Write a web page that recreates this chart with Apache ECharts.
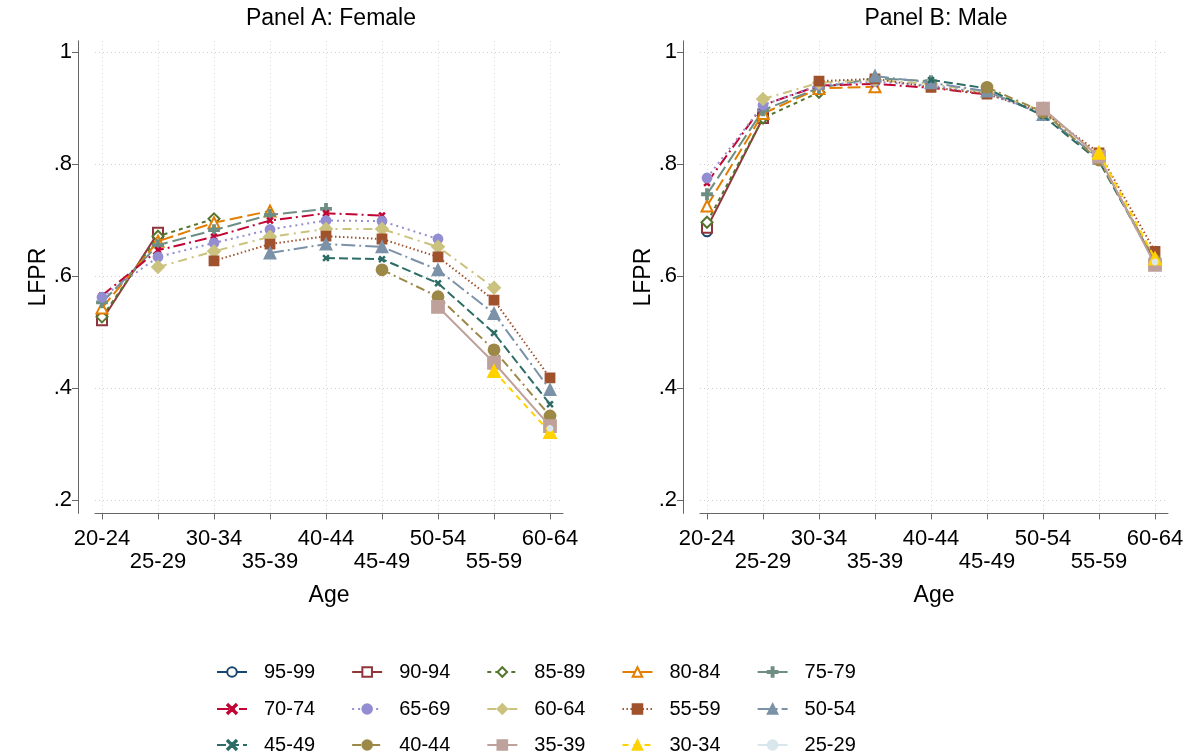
<!DOCTYPE html>
<html>
<head>
<meta charset="utf-8">
<script src="https://cdn.jsdelivr.net/npm/echarts@6/dist/echarts.min.js"></script>
<style>
html,body{margin:0;padding:0;background:#fff;}
#chart{width:1199px;height:755px;}
</style>
</head>
<body>
<div id="chart"></div>
<script>
// ---- data ----
const ages = ['20-24','25-29','30-34','35-39','40-44','45-49','50-54','55-59','60-64'];
const cohorts = ['95-99','90-94','85-89','80-84','75-79','70-74','65-69','60-64','55-59','50-54','45-49','40-44','35-39','30-34','25-29'];
const yTicks = [0.2, 0.4, 0.6, 0.8, 1];
const yTickLabels = ['.2', '.4', '.6', '.8', '1'];

// Panel A: Female (LFPR by age group, one array per birth cohort)
const female9599 = [0.522, null, null, null, null, null, null, null, null];
const female9094 = [0.521, 0.677, null, null, null, null, null, null, null];
const female8589 = [0.527, 0.671, 0.702, null, null, null, null, null, null];
const female8084 = [0.543, 0.662, 0.695, 0.716, null, null, null, null, null];
const female7579 = [0.553, 0.655, 0.682, 0.709, 0.720, null, null, null, null];
const female7074 = [0.565, 0.646, 0.670, 0.699, 0.712, 0.708, null, null, null];
const female6569 = [0.562, 0.634, 0.659, 0.683, 0.699, 0.698, 0.666, null, null];
const female6064 = [null, 0.616, 0.644, 0.670, 0.684, 0.684, 0.652, 0.579, null];
const female5559 = [null, null, 0.627, 0.657, 0.671, 0.666, 0.634, 0.557, 0.418];
const female5054 = [null, null, null, 0.641, 0.657, 0.652, 0.611, 0.533, 0.397];
const female4549 = [null, null, null, null, 0.632, 0.630, 0.587, 0.498, 0.371];
const female4044 = [null, null, null, null, null, 0.611, 0.563, 0.468, 0.350];
const female3539 = [null, null, null, null, null, null, 0.545, 0.445, 0.332];
const female3034 = [null, null, null, null, null, null, null, 0.430, 0.321];
const female2529 = [null, null, null, null, null, null, null, null, 0.328];

// Panel B: Male
const male9599 = [0.679, null, null, null, null, null, null, null, null];
const male9094 = [0.686, 0.882, null, null, null, null, null, null, null];
const male8589 = [0.696, 0.882, 0.928, null, null, null, null, null, null];
const male8084 = [0.725, 0.890, 0.935, 0.938, null, null, null, null, null];
const male7579 = [0.746, 0.896, 0.936, 0.953, 0.948, null, null, null, null];
const male7074 = [0.766, 0.905, 0.940, 0.943, 0.936, 0.924, null, null, null];
const male6569 = [0.775, 0.905, 0.941, 0.947, 0.940, 0.926, 0.890, null, null];
const male6064 = [null, 0.916, 0.945, 0.950, 0.943, 0.928, 0.895, 0.815, null];
const male5559 = [null, null, 0.948, 0.952, 0.937, 0.925, 0.893, 0.820, 0.644];
const male5054 = [null, null, null, 0.957, 0.945, 0.930, 0.888, 0.810, 0.625];
const male4549 = [null, null, null, null, 0.950, 0.935, 0.886, 0.805, 0.625];
const male4044 = [null, null, null, null, null, 0.937, 0.893, 0.807, 0.628];
const male3539 = [null, null, null, null, null, null, 0.899, 0.813, 0.620];
const male3034 = [null, null, null, null, null, null, null, 0.820, 0.631];
const male2529 = [null, null, null, null, null, null, null, null, 0.625];

const femaleSeries = [female9599, female9094, female8589, female8084, female7579, female7074, female6569,
  female6064, female5559, female5054, female4549, female4044, female3539, female3034, female2529];
const maleSeries = [male9599, male9094, male8589, male8084, male7579, male7074, male6569,
  male6064, male5559, male5054, male4549, male4044, male3539, male3034, male2529];

// ---- styles ----
const plusPath = 'path://M4,0H6V4H10V6H6V10H4V6H0V4H4Z';
const xPath = 'path://M1,0L5,4L9,0L10,1L6,5L10,9L9,10L5,6L1,10L0,9L4,5L0,1Z';
const styles = [
  {color:'#1a476f', type:'solid',        symbol:'emptyCircle',   size:9},
  {color:'#90353b', type:'solid',        symbol:'emptyRect',     size:10},
  {color:'#55752f', type:[4,4],          symbol:'emptyDiamond',  size:11},
  {color:'#e37e00', type:[13,5],         symbol:'emptyTriangle', size:11},
  {color:'#6e8e84', type:[14,5],         symbol:plusPath,        size:10},
  {color:'#c10534', type:[12,4,2,4],     symbol:xPath,           size:5},
  {color:'#938dd2', type:[2,4],          symbol:'circle',        size:9},
  {color:'#cac27e', type:[9,5,2,5],      symbol:'diamond',       size:12},
  {color:'#a0522d', type:[1.5,2.5],      symbol:'rect',          size:9},
  {color:'#7b92a8', type:[14,4,2,4],     symbol:'triangle',      size:11},
  {color:'#2d6d66', type:[9,4],          symbol:xPath,           size:5},
  {color:'#9c8847', type:[9,4,2,4],      symbol:'circle',        size:11},
  {color:'#bfa19c', type:'solid',        symbol:'rect',          size:12},
  {color:'#ffd200', type:[6,5],          symbol:'triangle',      size:12},
  {color:'#d9e6eb', type:'solid',        symbol:'circle',        size:5}
];

const FONT = 'Liberation Sans, Arial, sans-serif';
const xIdx = [0,1,2,3,4,5,6,7,8];
const xEven = [0,2,4,6,8];
const xOdd = [1,3,5,7];

function makeXAxis(gridIndex) {
  return {
    type:'value', gridIndex, position:'bottom', min:-0.125, max:8.232,
    axisLine:{show:true, onZero:false, lineStyle:{color:'#666', width:1}},
    axisTick:{show:true, length:6, customValues:xIdx, lineStyle:{color:'#666'}},
    axisLabel:{customValues:xEven, showMinLabel:true, showMaxLabel:true, hideOverlap:false,
      color:'#000', fontSize:22, fontFamily:FONT, margin:15,
      formatter:(v)=>ages[Math.round(v)]},
    splitLine:{show:true, lineStyle:{color:'#d4d4d4', type:[1,3], width:1}},
    name:'Age', nameLocation:'middle', nameGap:71,
    nameTextStyle:{fontSize:23, color:'#000', fontFamily:FONT}
  };
}
function makeXAxisOdd(gridIndex) {
  return {
    type:'value', gridIndex, position:'bottom', min:-0.125, max:8.232,
    axisLine:{show:false, onZero:false},
    axisTick:{show:false},
    axisLabel:{customValues:xOdd, showMinLabel:true, showMaxLabel:true, hideOverlap:false,
      color:'#000', fontSize:22, fontFamily:FONT, margin:38,
      formatter:(v)=>ages[Math.round(v)]},
    splitLine:{show:false}
  };
}
function makeYAxis(gridIndex) {
  return {
    type:'value', gridIndex, min:0.176, max:1.02, offset:17,
    axisLine:{show:true, onZero:false, lineStyle:{color:'#666', width:1}},
    axisTick:{show:true, length:6, customValues:yTicks, lineStyle:{color:'#666'}},
    axisLabel:{customValues:yTicks, showMinLabel:true, showMaxLabel:true, hideOverlap:false,
      color:'#000', fontSize:22, fontFamily:FONT, margin:6,
      formatter:(v)=>{ const k=yTicks.findIndex(t=>Math.abs(t-v)<1e-6); return k>=0 ? yTickLabels[k] : ''; }},
    splitLine:{show:true, lineStyle:{color:'#d4d4d4', type:[1,3], width:1}},
    name:'LFPR', nameLocation:'middle', nameGap:27,
    nameTextStyle:{fontSize:23, color:'#000', fontFamily:FONT}
  };
}

function buildSeries(arrs, xAxisIndex, yAxisIndex) {
  return arrs.map((arr, k) => {
    const st = styles[k];
    const pts = [];
    arr.forEach((v, i) => { if (v !== null) pts.push([i, v]); });
    return {
      name: cohorts[k], type:'line', xAxisIndex, yAxisIndex,
      data: pts, symbol: st.symbol, symbolSize: st.size, showSymbol:true,
      lineStyle:{color:st.color, width:2, type:st.type},
      itemStyle:{color:st.color, borderColor:st.color, borderWidth:1.8},
      emphasis:{disabled:true}, z: 2 + k
    };
  });
}

function legendRow(names, top) {
  return {
    data:names, left:216, top:top, orient:'horizontal', padding:0,
    itemWidth:30, itemHeight:12, itemGap:36,
    textStyle:{fontSize:20, color:'#000', fontFamily:FONT, padding:[0,0,0,12]},
    selectedMode:false
  };
}

const option = {
  animation:false,
  backgroundColor:'#fff',
  title:[
    {text:'Panel A: Female', left:326, top:2, textAlign:'center', textStyle:{fontSize:23, fontWeight:'normal', color:'#000', fontFamily:FONT}},
    {text:'Panel B: Male', left:931, top:2, textAlign:'center', textStyle:{fontSize:23, fontWeight:'normal', color:'#000', fontFamily:FONT}}
  ],
  legend:[
    legendRow(cohorts.slice(0,5), 662),
    legendRow(cohorts.slice(5,10), 699),
    legendRow(cohorts.slice(10,15), 735)
  ],
  grid:[
    {left:95, width:468, top:40.8, height:472.6},
    {left:700, width:468, top:40.8, height:472.6}
  ],
  xAxis:[makeXAxis(0), makeXAxisOdd(0), makeXAxis(1), makeXAxisOdd(1)],
  yAxis:[makeYAxis(0), makeYAxis(1)],
  series:[...buildSeries(femaleSeries, 0, 0), ...buildSeries(maleSeries, 2, 1)]
};

const chart = echarts.init(document.getElementById('chart'), null, {renderer:'canvas'});
chart.setOption(option);
</script>
</body>
</html>
